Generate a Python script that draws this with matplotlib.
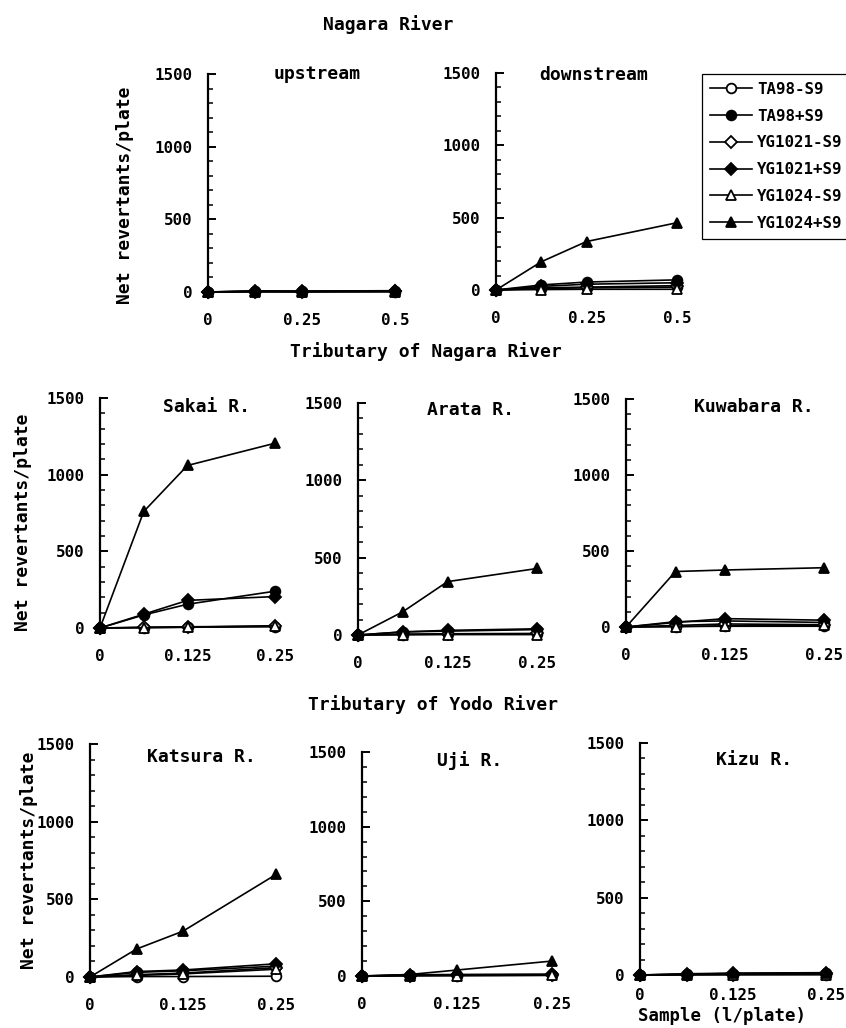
import matplotlib
matplotlib.use("Agg")
import matplotlib.pyplot as plt
from matplotlib.ticker import MultipleLocator, FixedLocator, FixedFormatter

# ---------------- data ----------------
strains = ["TA98-S9", "TA98+S9", "YG1021-S9", "YG1021+S9", "YG1024-S9", "YG1024+S9"]

x_nagara = [0, 0.125, 0.25, 0.5]
x_trib = [0, 0.0625, 0.125, 0.25]
xticks_nagara = [0, 0.25, 0.5]
xticklabels_nagara = ["0", "0.25", "0.5"]
xticks_trib = [0, 0.125, 0.25]
xticklabels_trib = ["0", "0.125", "0.25"]

# rows follow the order of `strains`
upstream = [[0, 2, 3, 2], [0, 5, 4, 6], [0, 3, 2, 4],
            [0, 6, 5, 7], [0, 2, 1, 3], [0, 8, 6, 9]]
downstream = [[0, 10, 15, 20], [0, 35, 55, 70], [0, 15, 20, 30],
              [0, 25, 40, 50], [0, 3, 5, 5], [0, 195, 335, 465]]
sakai = [[0, 3, 5, 8], [0, 85, 155, 240], [0, 5, 8, 12],
         [0, 90, 180, 205], [0, 2, 5, 15], [0, 760, 1060, 1205]]
arata = [[0, 3, 5, 5], [0, 20, 25, 35], [0, 5, 8, 10],
         [0, 20, 30, 40], [0, 2, 3, 3], [0, 150, 345, 430]]
kuwabara = [[0, 3, 5, 5], [0, 35, 40, 30], [0, 10, 20, 15],
            [0, 30, 55, 45], [0, 3, 8, 10], [0, 365, 375, 390]]
katsura = [[0, 3, 3, 5], [0, 30, 40, 70], [0, 15, 25, 60],
           [0, 35, 45, 85], [0, 10, 20, 50], [0, 180, 295, 660]]
uji = [[0, 3, 3, 5], [0, 5, 8, 10], [0, 3, 5, 5],
       [0, 8, 10, 12], [0, 2, 3, 5], [0, 10, 40, 100]]
kizu = [[0, 2, 3, 3], [0, 5, 8, 10], [0, 2, 3, 5],
        [0, 8, 12, 15], [0, 2, 3, 3], [0, 5, 10, 12]]

# ---------------- style ----------------
MONO = "DejaVu Sans Mono"
plt.rcParams["font.family"] = MONO
plt.rcParams["font.weight"] = "bold"

marker_styles = [("o", "white"), ("o", "black"), ("D", "white"),
                 ("D", "black"), ("^", "white"), ("^", "black")]
marker_sizes = [7, 7, 6, 6, 7.5, 7.5]

fig = plt.figure(figsize=(8.46, 10.28), dpi=100)
W, H = 846.0, 1028.0


def make_axes(x0, x1, ytop, ybot):
    return fig.add_axes([x0 / W, 1 - ybot / H, (x1 - x0) / W, (ybot - ytop) / H])


def style_axes(ax, xmax, xticks, xlabels, xpad=15):
    ax.set_xlim(0, xmax)
    ax.set_ylim(0, 1500)
    for s in ["top", "right", "bottom"]:
        ax.spines[s].set_visible(False)
    ax.spines["left"].set_linewidth(1.6)
    ax.yaxis.set_major_locator(MultipleLocator(500))
    ax.yaxis.set_minor_locator(MultipleLocator(100))
    ax.tick_params(axis="y", which="major", direction="in", length=6, width=1.4,
                   pad=11, labelsize=11.3)
    ax.tick_params(axis="y", which="minor", direction="in", length=3.5, width=1.1)
    ax.xaxis.set_major_locator(FixedLocator(xticks))
    ax.xaxis.set_major_formatter(FixedFormatter(xlabels))
    ax.tick_params(axis="x", which="both", length=0, pad=xpad, labelsize=11.3)
    ax.patch.set_alpha(0)


def draw(ax, x, data):
    handles = []
    for i, vals in enumerate(data):
        m, fc = marker_styles[i]
        h, = ax.plot(x, vals, color="black", lw=1.2, marker=m, mfc=fc, mec="black",
                     mew=1.3, ms=marker_sizes[i], clip_on=False, label=strains[i])
        handles.append(h)
    return handles


def panel_title(ax, text, xf, yf):
    ax.text(xf, yf, text, transform=ax.transAxes, ha="center", va="center",
            fontsize=13, fontweight="bold")


# ---- top row ----
ax_up = make_axes(208, 395, 74, 292)
style_axes(ax_up, 0.5, xticks_nagara, xticklabels_nagara)
handles = draw(ax_up, x_nagara, upstream)
panel_title(ax_up, "upstream", 0.583, 1.0)

ax_down = make_axes(496, 677, 73, 290)
style_axes(ax_down, 0.5, xticks_nagara, xticklabels_nagara)
draw(ax_down, x_nagara, downstream)
panel_title(ax_down, "downstream", 0.54, 0.99)

# ---- middle row ----
ax_sak = make_axes(100, 275, 398, 628)
style_axes(ax_sak, 0.25, xticks_trib, xticklabels_trib)
draw(ax_sak, x_trib, sakai)
panel_title(ax_sak, "Sakai R.", 0.61, 0.96)

ax_ara = make_axes(358, 537, 403, 635)
style_axes(ax_ara, 0.25, xticks_trib, xticklabels_trib)
draw(ax_ara, x_trib, arata)
panel_title(ax_ara, "Arata R.", 0.63, 0.97)

ax_kuw = make_axes(626, 824, 399, 627)
style_axes(ax_kuw, 0.25, xticks_trib, xticklabels_trib)
draw(ax_kuw, x_trib, kuwabara)
panel_title(ax_kuw, "Kuwabara R.", 0.646, 0.965)

# ---- bottom row ----
ax_kat = make_axes(90, 276, 744, 977)
style_axes(ax_kat, 0.25, xticks_trib, xticklabels_trib)
draw(ax_kat, x_trib, katsura)
panel_title(ax_kat, "Katsura R.", 0.597, 0.944)

ax_uji = make_axes(362, 552, 752, 976)
style_axes(ax_uji, 0.25, xticks_trib, xticklabels_trib)
draw(ax_uji, x_trib, uji)
panel_title(ax_uji, "Uji R.", 0.568, 0.964)

ax_kiz = make_axes(640, 826, 743, 975)
style_axes(ax_kiz, 0.25, xticks_trib, xticklabels_trib, xpad=9)
draw(ax_kiz, x_trib, kizu)
panel_title(ax_kiz, "Kizu R.", 0.613, 0.927)

# ---- y labels ----
for (xc, yc) in [(125, 195), (23, 522), (29, 860)]:
    fig.text(xc / W, 1 - yc / H, "Net revertants/plate", rotation=90,
             ha="center", va="center", fontsize=13, fontweight="bold")

# ---- section titles ----
fig.text(388 / W, 1 - 25 / H, "Nagara River", ha="center", va="center",
         fontsize=13, fontweight="bold")
fig.text(426 / W, 1 - 352 / H, "Tributary of Nagara River", ha="center", va="center",
         fontsize=13, fontweight="bold")
fig.text(433 / W, 1 - 705 / H, "Tributary of Yodo River", ha="center", va="center",
         fontsize=13, fontweight="bold")

# ---- x label on Kizu ----
fig.text(722 / W, 1 - 1016 / H, "Sample (l/plate)", ha="center", va="center",
         fontsize=12.5, fontweight="bold")

# ---- legend ----
leg = fig.legend(handles=handles, labels=strains, loc="upper left",
                 bbox_to_anchor=(702 / W, 1 - 74 / H), fontsize=11.3,
                 frameon=True, fancybox=False, edgecolor="black",
                 handlelength=2.7, handletextpad=0.3, labelspacing=0.75,
                 borderpad=0.5, borderaxespad=0, framealpha=1)
leg.get_frame().set_linewidth(0.9)

fig.savefig("out.png", dpi=100)
